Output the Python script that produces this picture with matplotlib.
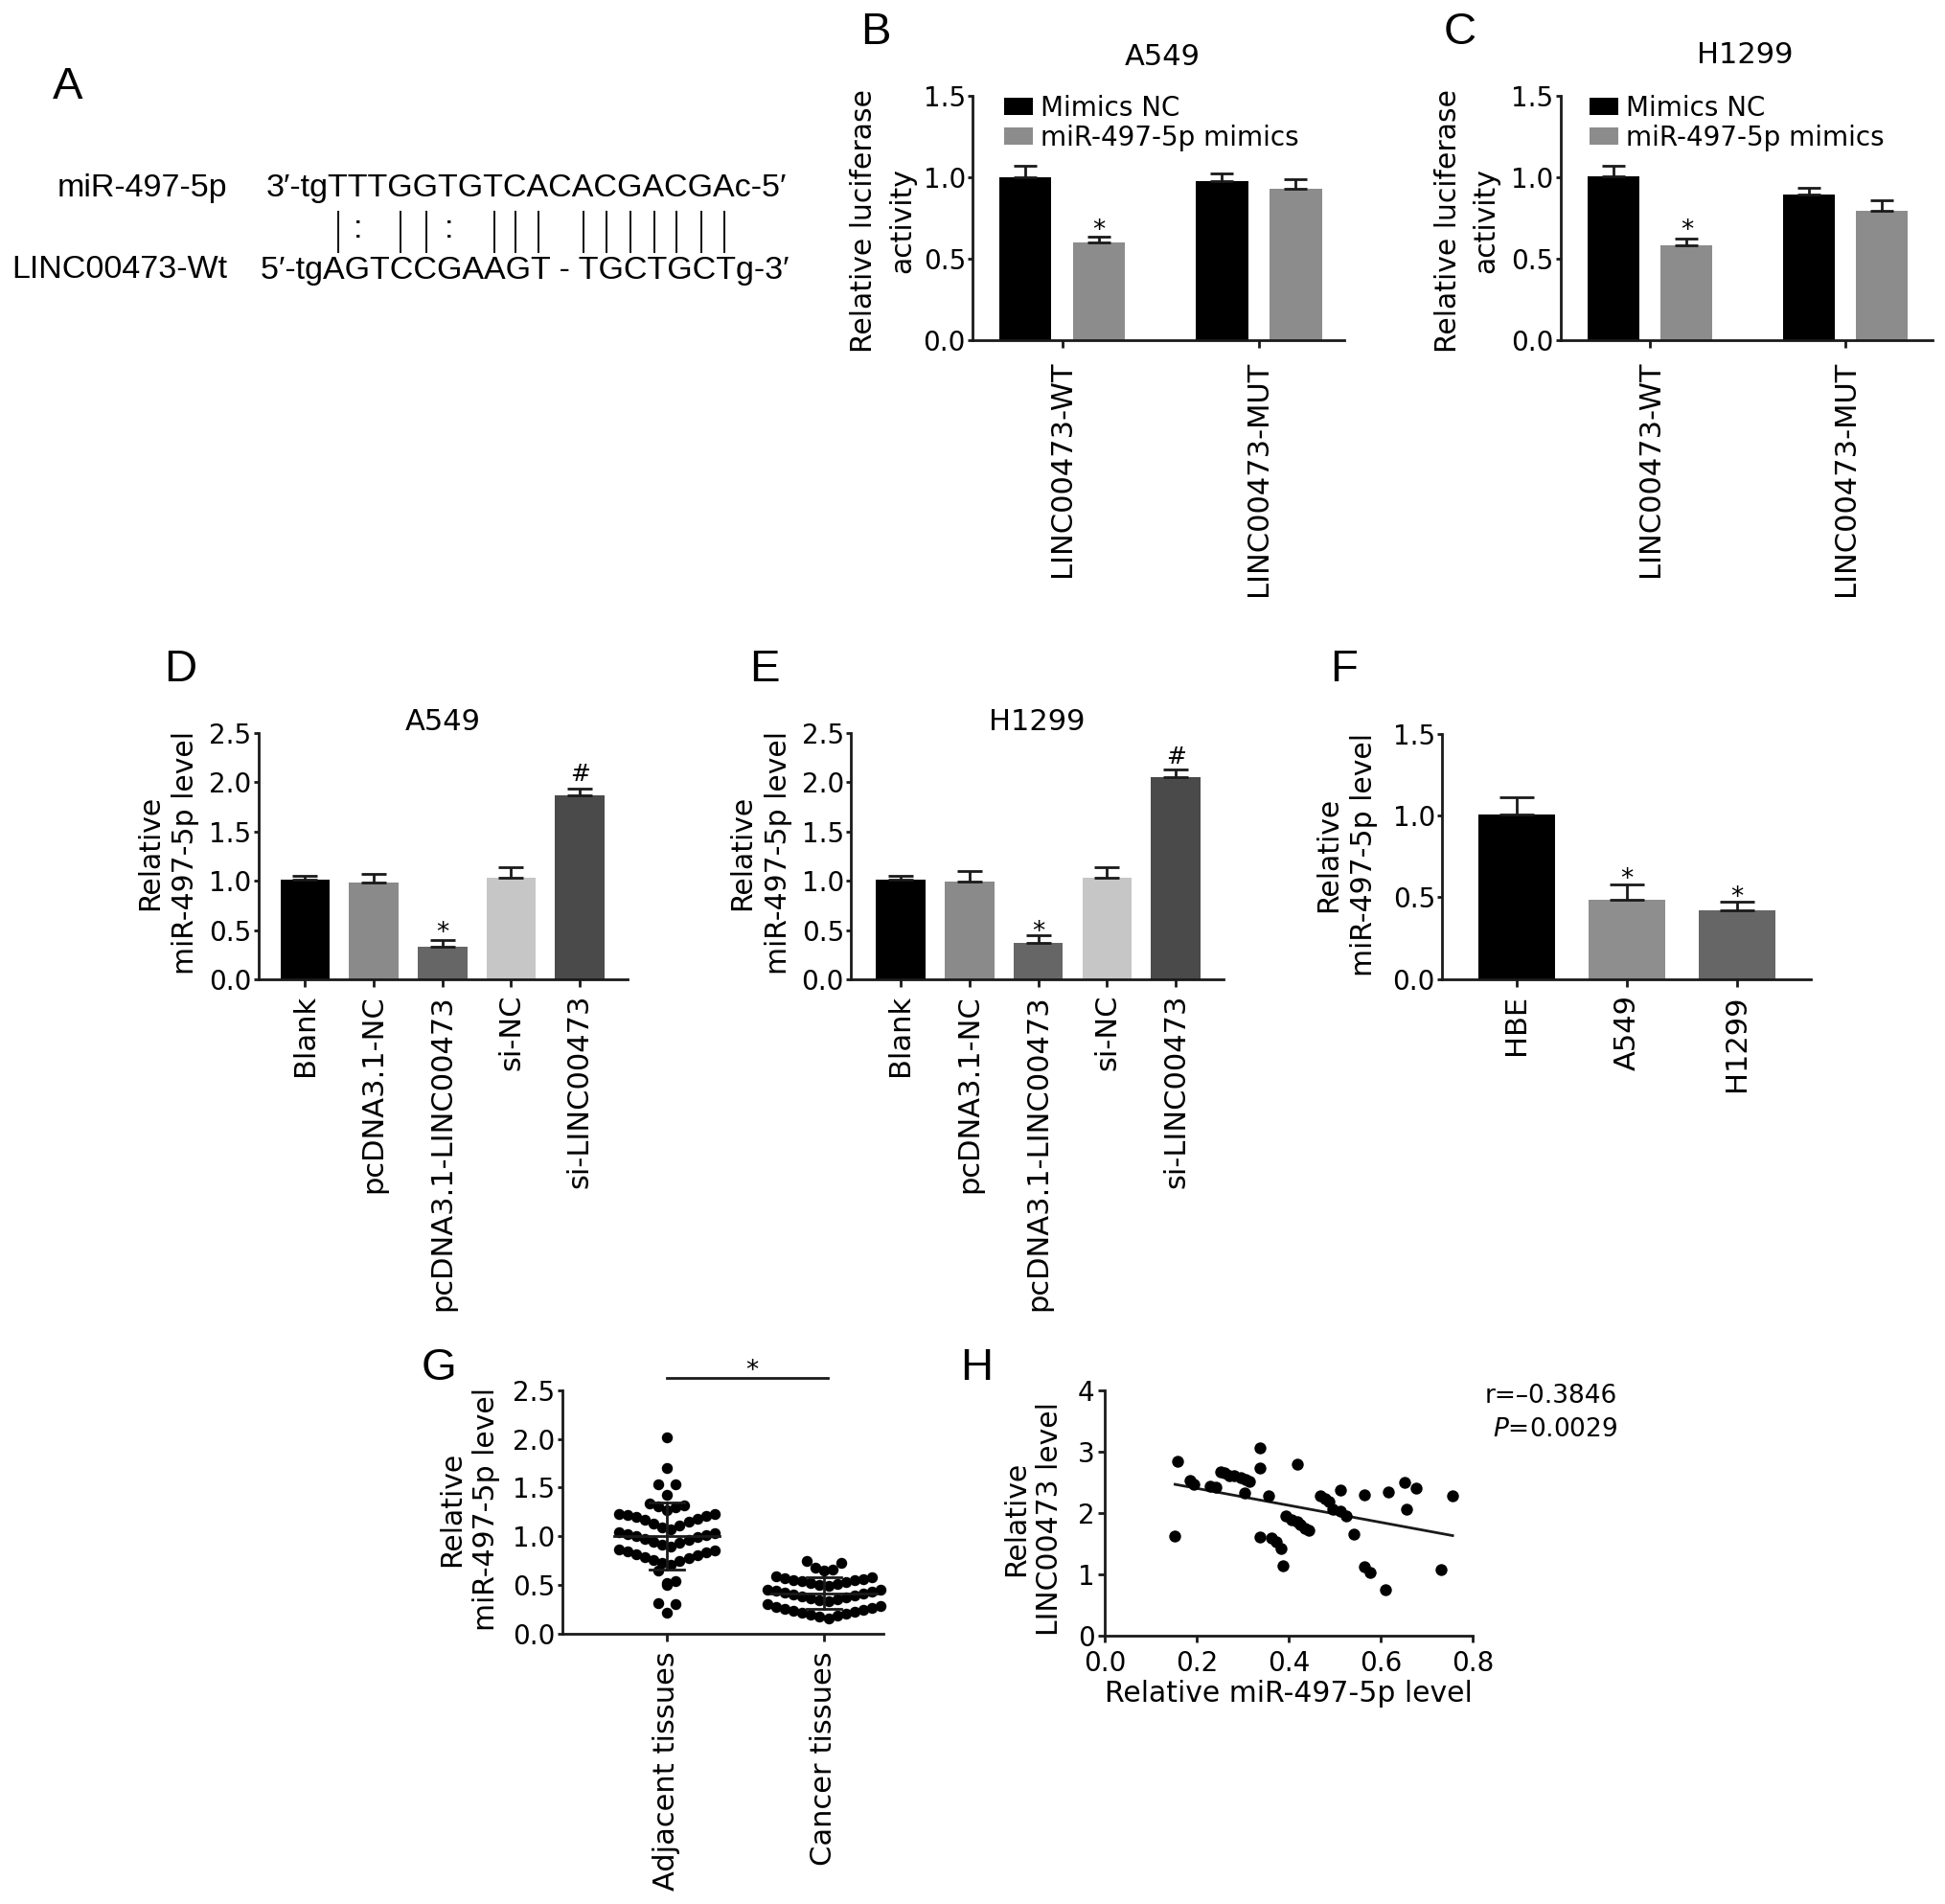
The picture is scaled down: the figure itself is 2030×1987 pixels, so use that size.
import numpy as np
import matplotlib
matplotlib.use("Agg")
import matplotlib.pyplot as plt
from matplotlib.lines import Line2D
from matplotlib.ticker import FormatStrFormatter
from matplotlib.font_manager import FontProperties

plt.rcParams["font.family"] = ["DejaVu Sans"]
plt.rcParams["mathtext.fontset"] = "dejavusans"

# --------------------
# data
# --------------------

# A: binding site
mir_name = "miR-497-5p"
linc_name = "LINC00473-Wt"
mir_seq = "3′-tgTTTGGTGTCACACGACGAc-5′"
linc_seq = "5′-tgAGTCCGAAGT - TGCTGCTg-3′"
pairing = "|: ||: ||| |||||||"   # one mark per upper-case base of the miRNA

# B, C: luciferase reporter
luc_groups = ["LINC00473-WT", "LINC00473-MUT"]
luc_names = ["Mimics NC", "miR-497-5p mimics"]
a549_nc = [1.000, 0.979]
a549_nc_err = [0.068, 0.046]
a549_mim = [0.600, 0.931]
a549_mim_err = [0.036, 0.058]
h1299_nc = [1.008, 0.895]
h1299_nc_err = [0.060, 0.041]
h1299_mim = [0.581, 0.797]
h1299_mim_err = [0.043, 0.060]

# D, E: miR-497-5p after transfection
tr_groups = ["Blank", "pcDNA3.1-NC", "pcDNA3.1-LINC00473", "si-NC", "si-LINC00473"]
tr_colors = ["#000000", "#8a8a8a", "#666666", "#c6c6c6", "#4a4a4a"]
a549_mir = [1.013, 0.982, 0.335, 1.027, 1.866]
a549_mir_err = [0.036, 0.089, 0.067, 0.111, 0.067]
h1299_mir = [1.013, 0.991, 0.371, 1.027, 2.054]
h1299_mir_err = [0.036, 0.112, 0.075, 0.111, 0.075]

# F: cell lines
cell_lines = ["HBE", "A549", "H1299"]
cell_colors = ["#000000", "#8e8e8e", "#666666"]
cell_mir = [1.007, 0.483, 0.420]
cell_mir_err = [0.108, 0.098, 0.055]

# G: tissues
tissue_groups = ["Adjacent tissues", "Cancer tissues"]
adjacent = [2.02, 1.70, 1.53, 1.53, 1.43,
            1.34, 1.32, 1.31, 1.30, 1.27,
            1.23, 1.23, 1.22, 1.21, 1.20, 1.18, 1.17, 1.15, 1.13, 1.11, 1.09, 1.07,
            1.04, 1.03, 1.02, 1.01, 1.00, 0.99, 0.97, 0.96, 0.94, 0.93, 0.91, 0.89,
            0.87, 0.86, 0.85, 0.84, 0.82, 0.81, 0.79, 0.78, 0.76, 0.75, 0.73, 0.71,
            0.65, 0.54, 0.52, 0.50, 0.31, 0.30, 0.22]
cancer = [0.75, 0.73, 0.68, 0.66, 0.65,
          0.59, 0.58, 0.57, 0.56, 0.55, 0.55, 0.54, 0.53, 0.52, 0.51, 0.50, 0.49,
          0.45, 0.45, 0.44, 0.43, 0.42, 0.41, 0.40, 0.39, 0.38, 0.37, 0.36, 0.35, 0.34, 0.33,
          0.30, 0.29, 0.28, 0.27, 0.26, 0.25, 0.24, 0.23, 0.22, 0.21, 0.20, 0.19, 0.18, 0.16]

# H: correlation
h_mir = [0.152, 0.158, 0.185, 0.193, 0.229, 0.241, 0.251, 0.260, 0.270, 0.280,
         0.296, 0.306, 0.314, 0.303, 0.337, 0.336, 0.355, 0.336, 0.361, 0.373,
         0.382, 0.386, 0.417, 0.393, 0.405, 0.417, 0.424, 0.434, 0.444, 0.468,
         0.479, 0.486, 0.496, 0.512, 0.512, 0.525, 0.542, 0.563, 0.563, 0.576,
         0.610, 0.617, 0.652, 0.656, 0.677, 0.731, 0.756]
h_linc = [1.625, 2.84, 2.52, 2.46, 2.44, 2.42, 2.67, 2.65, 2.61, 2.60,
          2.58, 2.54, 2.51, 2.33, 3.06, 2.73, 2.28, 1.60, 1.59, 1.52,
          1.42, 1.13, 2.80, 1.95, 1.89, 1.85, 1.81, 1.74, 1.71, 2.27,
          2.23, 2.19, 2.06, 2.37, 2.02, 1.95, 1.65, 2.30, 1.12, 1.02,
          0.745, 2.34, 2.50, 2.06, 2.40, 1.08, 2.27]
r_text = "r=–0.3846"
p_text = "$\\it{P}$=0.0029"

# --------------------
# figure helpers (pixel layout)
# --------------------

W, H = 2031, 1987
fig = plt.figure(figsize=(W / 100, H / 100), dpi=100)
INK = "#1a1a1a"


def px_ax(x0, x1, y0, y1):
    return fig.add_axes([x0 / W, 1 - y1 / H, (x1 - x0) / W, (y1 - y0) / H])


def ftext(x, y, s, **kw):
    return fig.text(x / W, 1 - y / H, s, **kw)


def letter(x, y, s):
    ftext(x, y, s, fontsize=34, ha="center", va="center",
          family=["Liberation Sans", "DejaVu Sans"])


def ylab(x, y, s, ls):
    ftext(x, y, s, rotation=90, ha="center", va="center",
          fontsize=21.5, linespacing=ls, multialignment="center")


def style(ax, xpad, xlen=5.5, ylen=3.6, ypad=1.5, xsize=22):
    for s in ("top", "right"):
        ax.spines[s].set_visible(False)
    for s in ("left", "bottom"):
        ax.spines[s].set_linewidth(2)
        ax.spines[s].set_color(INK)
    ax.tick_params(axis="y", width=2, length=ylen, pad=ypad, labelsize=20, color=INK)
    ax.tick_params(axis="x", width=2, length=xlen, pad=xpad, labelsize=xsize, color=INK)


def mark(ax, x, y, s, off, size=19):
    ax.annotate(s, (x, y), xytext=(0, off), textcoords="offset points",
                ha="center", va="baseline", fontsize=size, annotation_clip=False)


def errs(ax, x, v, e, cap):
    ax.errorbar(x, v, yerr=[np.zeros(len(v)), e], fmt="none", ecolor=INK,
                elinewidth=2, capsize=cap, capthick=2, zorder=3)


# --------------------
# A: sequence pairing
# --------------------

letter(71, 91, "A")
fpA = FontProperties(family=["Liberation Sans", "DejaVu Sans"], size=24.5)
ftext(237, 197, mir_name, ha="right", va="center", fontproperties=fpA)
ftext(237, 282, linc_name, ha="right", va="center", fontproperties=fpA)
seq_x0 = 278
ftext(seq_x0, 197, mir_seq, ha="left", va="center", fontproperties=fpA)
ftext(272, 282, linc_seq, ha="left", va="center", fontproperties=fpA)

renderer = fig.canvas.get_renderer()


def text_w(s):
    return renderer.get_text_width_height_descent(s, fpA, ismath=False)[0]


for k, m in enumerate(pairing):
    i = 5 + k
    xc = seq_x0 + (text_w(mir_seq[:i]) + text_w(mir_seq[:i + 1])) / 2
    if m == "|":
        fig.add_artist(Line2D([xc / W, xc / W], [1 - 221 / H, 1 - 263 / H],
                              color=INK, lw=1.5))
    elif m == ":":
        ftext(xc, 240, ":", ha="center", va="center", fontproperties=fpA)

# --------------------
# B, C: luciferase
# --------------------

def luc_panel(ax, nc, nc_e, mim, mim_e, xlim, star_off, leg_x):
    x = np.arange(len(luc_groups))
    off, bw = 0.1875, 0.265
    ax.bar(x - off, nc, bw, color="black", label=luc_names[0], zorder=2)
    ax.bar(x + off, mim, bw, color="#8c8c8c", label=luc_names[1], zorder=2)
    errs(ax, x - off, nc, nc_e, 8.3)
    errs(ax, x + off, mim, mim_e, 8.3)
    ax.set_xlim(*xlim)
    ax.set_ylim(0, 1.5)
    ax.set_yticks([0, 0.5, 1.0, 1.5])
    ax.yaxis.set_major_formatter(FormatStrFormatter("%.1f"))
    ax.set_xticks(x)
    ax.set_xticklabels(luc_groups, rotation=90)
    style(ax, xpad=10)
    mark(ax, off, mim[0] + mim_e[0], "*", star_off)
    ax.legend(loc="upper left", bbox_to_anchor=(leg_x, 1.005), frameon=False,
              fontsize=20, handlelength=1.1, handleheight=0.62, handletextpad=0.3,
              labelspacing=0.12, borderpad=0, borderaxespad=0)


axB = px_ax(1015, 1403, 100, 355)
luc_panel(axB, a549_nc, a549_nc_err, a549_mim, a549_mim_err, (-0.456, 1.434), -1, 0.084)
letter(914, 34, "B")
ftext(1213, 60, "A549", fontsize=22, ha="center", va="center")
ylab(921.5, 230, "Relative luciferase\nactivity", 1.5)

axC = px_ax(1628.6, 2017, 100, 355)
luc_panel(axC, h1299_nc, h1299_nc_err, h1299_mim, h1299_mim_err, (-0.459, 1.446), 0.5, 0.077)
letter(1524, 34, "C")
ftext(1821, 58, "H1299", fontsize=22, ha="center", va="center")
ylab(1531, 230, "Relative luciferase\nactivity", 1.45)

# --------------------
# D, E: transfection
# --------------------

def tr_panel(ax, vals, e, xlim, star_off, hash_off):
    x = np.arange(len(tr_groups))
    ax.bar(x, vals, 0.72, color=tr_colors, zorder=2)
    errs(ax, x, vals, e, 9.3)
    ax.set_xlim(*xlim)
    ax.set_ylim(0, 2.5)
    ax.set_yticks(np.arange(0, 2.51, 0.5))
    ax.yaxis.set_major_formatter(FormatStrFormatter("%.1f"))
    ax.set_xticks(x)
    ax.set_xticklabels(tr_groups, rotation=90)
    style(ax, xpad=6)
    mark(ax, 2, vals[2] + e[2], "*", star_off)
    mark(ax, 4, vals[4] + e[4], "#", hash_off, size=18)


axD = px_ax(269.5, 655, 765, 1022)
tr_panel(axD, a549_mir, a549_mir_err, (-0.682, 4.695), 0, 6)
letter(188, 699, "D")
ftext(462, 754, "A549", fontsize=22, ha="center", va="center")
ylab(175, 890, "Relative\nmiR-497-5p level", 1.35)

axE = px_ax(888, 1277, 765, 1022)
tr_panel(axE, h1299_mir, h1299_mir_err, (-0.719, 4.69), -3, 4.5)
letter(798, 699, "E")
ftext(1082, 754, "H1299", fontsize=22, ha="center", va="center")
ylab(793.5, 890, "Relative\nmiR-497-5p level", 1.35)

# --------------------
# F: cell lines
# --------------------

axF = px_ax(1505, 1890, 766, 1021.7)
xf = np.arange(len(cell_lines))
axF.bar(xf, cell_mir, 0.696, color=cell_colors, zorder=2)
errs(axF, xf, cell_mir, cell_mir_err, 12.9)
axF.set_xlim(-0.677, 2.67)
axF.set_ylim(0, 1.5)
axF.set_yticks([0, 0.5, 1.0, 1.5])
axF.yaxis.set_major_formatter(FormatStrFormatter("%.1f"))
axF.set_xticks(xf)
axF.set_xticklabels(cell_lines, rotation=90)
style(axF, xpad=6.5)
for i in (1, 2):
    mark(axF, i, cell_mir[i] + cell_mir_err[i], "*", -2)
letter(1403, 699, "F")
ylab(1405, 892, "Relative\nmiR-497-5p level", 1.35)

# --------------------
# G: tissues
# --------------------

def swarm(vals, width, origin, step):
    vals = np.asarray(vals, float)
    xs = np.zeros(len(vals))
    bins = np.floor((vals - origin) / width).astype(int)
    for b in np.unique(bins):
        idx = np.where(bins == b)[0]
        idx = idx[np.argsort(vals[idx], kind="stable")]
        n = len(idx)
        for k, i in enumerate(idx):
            if n % 2:
                slot = (k + 1) // 2 * (1 if k % 2 else -1)
            else:
                slot = (k // 2 + 0.5) * (1 if k % 2 == 0 else -1)
            xs[i] = slot * step
    return xs


axG = px_ax(586.7, 922, 1450.7, 1705)
for i, (v, bwid) in enumerate([(adjacent, 0.18), (cancer, 0.15)]):
    xs = swarm(v, bwid, 0.155, 0.055)
    axG.scatter(i + xs, v, s=68, color="black", linewidths=0, zorder=3, clip_on=False)
    m, sd = np.mean(v), np.std(v, ddof=1)
    axG.plot([i - 0.335, i + 0.335], [m, m], color=INK, lw=2, zorder=4)
    axG.plot([i, i], [m - sd, m + sd], color=INK, lw=2, zorder=4)
    for y in (m - sd, m + sd):
        axG.plot([i - 0.107, i + 0.107], [y, y], color=INK, lw=2, zorder=4)
axG.set_xlim(-0.666, 1.378)
axG.set_ylim(0, 2.5)
axG.set_yticks(np.arange(0, 2.51, 0.5))
axG.yaxis.set_major_formatter(FormatStrFormatter("%.1f"))
axG.set_xticks([0, 1])
axG.set_xticklabels(tissue_groups, rotation=90)
style(axG, xpad=7.5)
axG.plot([0, 1.024], [2.622, 2.622], color=INK, lw=2, clip_on=False)
mark(axG, 0.543, 2.622, "*", 0)
letter(458, 1428, "G")
ylab(490, 1575, "Relative\nmiR-497-5p level", 1.3)

# --------------------
# H: correlation
# --------------------

axH = px_ax(1153.5, 1537.2, 1450.7, 1706.7)
axH.scatter(h_mir, h_linc, s=80, color="black", linewidths=0, zorder=3)
k, b = np.polyfit(h_mir, h_linc, 1)
xx = np.array([min(h_mir), max(h_mir)])
axH.plot(xx, k * xx + b, color=INK, lw=2, zorder=2)
axH.set_xlim(0, 0.8)
axH.set_ylim(0, 4)
axH.set_xticks(np.arange(0, 0.81, 0.2))
axH.xaxis.set_major_formatter(FormatStrFormatter("%.1f"))
axH.set_yticks(range(5))
style(axH, xpad=6, xlen=5.3, ylen=5.3, ypad=2.7, xsize=20)
axH.set_xlabel("Relative miR-497-5p level", fontsize=21.5, labelpad=2)
letter(1019, 1428, "H")
ylab(1078.5, 1585, "Relative\nLINC00473 level", 1.25)
ftext(1688, 1457, r_text, fontsize=19, ha="right", va="center")
ftext(1688, 1492, p_text, fontsize=19, ha="right", va="center")

fig.savefig("out.png", dpi=100)
